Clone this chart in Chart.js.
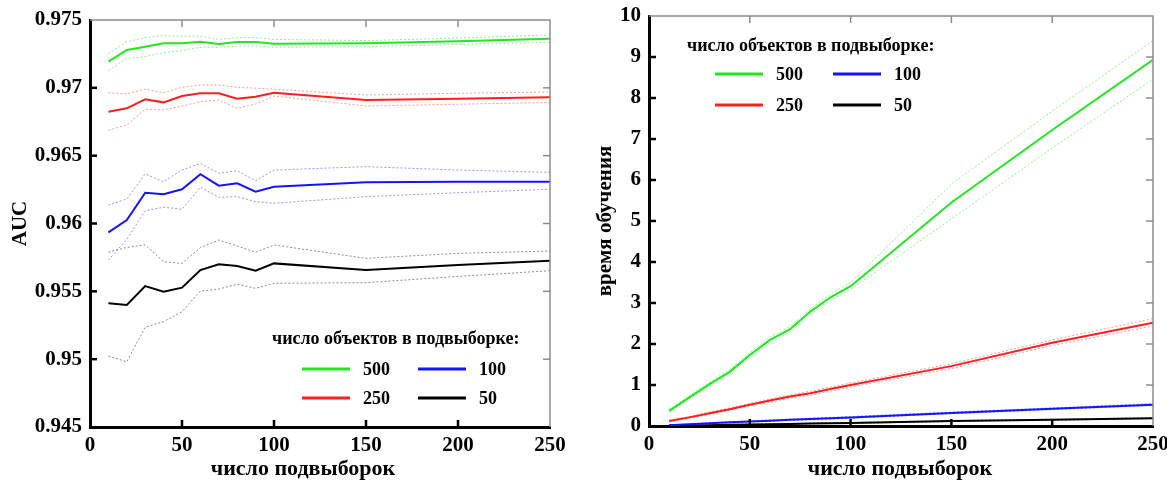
<!DOCTYPE html>
<html>
<head>
<meta charset="utf-8">
<script src="https://cdn.jsdelivr.net/npm/chart.js@4.4.0/dist/chart.umd.min.js"></script>
<style>
  body { margin: 0; background: #fff; }
  #wrap { position: relative; width: 1167px; height: 481px; }
  .box { position: absolute; top: 0; height: 481px; }
</style>
</head>
<body>
<div id="wrap">
  <div class="box" style="left:0;width:583px"><canvas id="aucChart" width="583" height="481"></canvas></div>
  <div class="box" style="left:583px;width:584px"><canvas id="timeChart" width="584" height="481"></canvas></div>
</div>
<script>
// число подвыборок
const subsets = [10, 20, 30, 40, 50, 60, 70, 80, 90, 100, 150, 200, 250];

// AUC: mean and dotted bounds per subset size
const auc500   = [0.97193, 0.97279, 0.97303, 0.97328, 0.97328, 0.97340, 0.97323, 0.97338, 0.97338, 0.97325, 0.97328, 0.97343, 0.97362];
const auc500Hi = [0.97254, 0.97340, 0.97370, 0.97384, 0.97380, 0.97380, 0.97357, 0.97370, 0.97370, 0.97357, 0.97348, 0.97367, 0.97390];
const auc500Lo = [0.97126, 0.97218, 0.97230, 0.97259, 0.97274, 0.97299, 0.97299, 0.97308, 0.97308, 0.97299, 0.97303, 0.97320, 0.97335];

const auc250   = [0.96824, 0.96849, 0.96915, 0.96893, 0.96940, 0.96960, 0.96960, 0.96920, 0.96935, 0.96964, 0.96910, 0.96920, 0.96930];
const auc250Hi = [0.96964, 0.96955, 0.96990, 0.96964, 0.97004, 0.97021, 0.97021, 0.97004, 0.96997, 0.96990, 0.96947, 0.96960, 0.96969];
const auc250Lo = [0.96689, 0.96726, 0.96842, 0.96837, 0.96866, 0.96898, 0.96910, 0.96849, 0.96881, 0.96940, 0.96866, 0.96879, 0.96893];

const auc100   = [0.95935, 0.96026, 0.96227, 0.96215, 0.96252, 0.96363, 0.96279, 0.96296, 0.96235, 0.96271, 0.96304, 0.96308, 0.96308];
const auc100Hi = [0.96136, 0.96180, 0.96365, 0.96308, 0.96394, 0.96443, 0.96370, 0.96389, 0.96315, 0.96394, 0.96419, 0.96394, 0.96377];
const auc100Lo = [0.95731, 0.95883, 0.96094, 0.96120, 0.96105, 0.96267, 0.96193, 0.96198, 0.96161, 0.96149, 0.96198, 0.96227, 0.96252];

const auc50    = [0.95412, 0.95399, 0.95539, 0.95497, 0.95527, 0.95657, 0.95699, 0.95687, 0.95652, 0.95706, 0.95657, 0.95694, 0.95726];
const auc50Hi  = [0.95788, 0.95824, 0.95842, 0.95719, 0.95706, 0.95822, 0.95878, 0.95834, 0.95788, 0.95842, 0.95743, 0.95780, 0.95797];
const auc50Lo  = [0.95023, 0.94981, 0.95235, 0.95277, 0.95350, 0.95502, 0.95517, 0.95552, 0.95522, 0.95559, 0.95564, 0.95610, 0.95652];

// время обучения
const time500   = [0.37, 0.70, 1.02, 1.32, 1.73, 2.10, 2.36, 2.79, 3.14, 3.41, 5.45, 7.22, 8.93];
const time500Hi = [0.40, 0.74, 1.07, 1.38, 1.79, 2.17, 2.43, 2.86, 3.21, 3.50, 5.90, 7.68, 9.40];
const time500Lo = [0.34, 0.66, 0.97, 1.27, 1.67, 2.03, 2.29, 2.72, 3.07, 3.33, 5.05, 6.78, 8.46];

const time250   = [0.12, 0.21, 0.31, 0.41, 0.52, 0.62, 0.72, 0.80, 0.90, 1.00, 1.46, 2.03, 2.52];
const time250Hi = [0.14, 0.23, 0.34, 0.44, 0.55, 0.66, 0.76, 0.85, 0.95, 1.05, 1.52, 2.10, 2.62];
const time250Lo = [0.10, 0.19, 0.28, 0.38, 0.49, 0.58, 0.68, 0.75, 0.85, 0.95, 1.40, 1.96, 2.44];

const time100   = [0.02, 0.04, 0.07, 0.09, 0.11, 0.13, 0.15, 0.17, 0.19, 0.21, 0.32, 0.42, 0.52];
const time100Hi = [0.03, 0.05, 0.08, 0.10, 0.12, 0.15, 0.17, 0.19, 0.21, 0.23, 0.34, 0.44, 0.55];
const time100Lo = [0.01, 0.03, 0.06, 0.08, 0.10, 0.12, 0.14, 0.15, 0.17, 0.19, 0.30, 0.40, 0.50];

const time50    = [0.01, 0.015, 0.02, 0.03, 0.035, 0.045, 0.05, 0.06, 0.07, 0.075, 0.12, 0.155, 0.19];
const time50Hi  = [0.02, 0.02, 0.03, 0.04, 0.045, 0.055, 0.06, 0.07, 0.08, 0.085, 0.13, 0.165, 0.20];
const time50Lo  = [0.005, 0.01, 0.015, 0.02, 0.03, 0.035, 0.04, 0.05, 0.06, 0.065, 0.11, 0.145, 0.18];

// tick labels
const xTicks = [0, 50, 100, 150, 200, 250];
const aucTicks = [0.945, 0.95, 0.955, 0.96, 0.965, 0.97, 0.975];
const timeTicks = [0, 1, 2, 3, 4, 5, 6, 7, 8, 9, 10];

const xTitle = 'число подвыборок';
const legendTitle = 'число объектов в подвыборке:';
const legendItems = [
  { label: '500', color: '#22e622' },
  { label: '100', color: '#1414ff' },
  { label: '250', color: '#ff1e1e' },
  { label: '50',  color: '#000000' }
];
const lightColors = {
  '500': 'rgba(34,230,34,0.5)',
  '100': 'rgba(20,20,255,0.45)',
  '250': 'rgba(255,30,30,0.45)',
  '50':  'rgba(0,0,0,0.45)'
};

const serif = '"Liberation Serif", "Times New Roman", serif';

function toPts(arr) {
  return arr.map((v, i) => ({ x: subsets[i], y: v }));
}

function seriesSets(label, main, hi, lo) {
  const color = legendItems.find(it => it.label === label).color;
  const light = lightColors[label];
  return [
    { label: label, data: toPts(main), borderColor: color, borderWidth: 2, pointRadius: 0, order: 0 },
    { label: label + ' hi', data: toPts(hi), borderColor: light, borderWidth: 1, borderDash: [2, 2], pointRadius: 0, order: 1 },
    { label: label + ' lo', data: toPts(lo), borderColor: light, borderWidth: 1, borderDash: [2, 2], pointRadius: 0, order: 1 }
  ];
}

function line(ctx, x1, y1, x2, y2) {
  ctx.beginPath();
  ctx.moveTo(x1, y1);
  ctx.lineTo(x2, y2);
  ctx.stroke();
}

// gray top/right frame and inward tick marks
const framePlugin = {
  id: 'frame',
  afterDraw(chart) {
    const { ctx, chartArea: a, scales } = chart;
    ctx.save();
    ctx.strokeStyle = '#8c8c8c';
    ctx.lineWidth = 1.5;
    ctx.beginPath();
    ctx.moveTo(a.left, a.top);
    ctx.lineTo(a.right, a.top);
    ctx.lineTo(a.right, a.bottom);
    ctx.stroke();
    scales.x.ticks.forEach(t => {
      const px = scales.x.getPixelForValue(t.value);
      if (px < a.left + 2 || px > a.right - 2) return;
      ctx.strokeStyle = '#000'; ctx.lineWidth = 2.5;
      line(ctx, px, a.bottom, px, a.bottom - 7);
      ctx.strokeStyle = '#8c8c8c'; ctx.lineWidth = 1.5;
      line(ctx, px, a.top, px, a.top + 7);
    });
    scales.y.ticks.forEach(t => {
      const py = scales.y.getPixelForValue(t.value);
      if (py < a.top + 2 || py > a.bottom - 2) return;
      ctx.strokeStyle = '#000'; ctx.lineWidth = 2.5;
      line(ctx, a.left, py, a.left + 7, py);
      ctx.strokeStyle = '#8c8c8c'; ctx.lineWidth = 1.5;
      line(ctx, a.right, py, a.right - 7, py);
    });
    ctx.restore();
  }
};

// legend box inside the plot + x axis title
const boxLegendPlugin = {
  id: 'boxLegend',
  afterDraw(chart, args, o) {
    const ctx = chart.ctx;
    ctx.save();
    ctx.fillStyle = '#000';
    ctx.textBaseline = 'middle';
    ctx.textAlign = 'left';
    ctx.font = 'bold 18px ' + serif;
    ctx.fillText(legendTitle, o.x, o.y);
    legendItems.forEach((it, i) => {
      const lx = o.x + o.lineX[i % 2];
      const ly = o.y + o.rowY[Math.floor(i / 2)];
      ctx.strokeStyle = it.color;
      ctx.lineWidth = 3;
      line(ctx, lx, ly, lx + 48, ly);
      ctx.fillText(it.label, lx + 61, ly + 1);
    });
    ctx.font = 'bold 22px ' + serif;
    ctx.textAlign = 'center';
    ctx.fillText(xTitle, o.titleX, 469);
    ctx.restore();
  }
};

function makeOptions(cfg) {
  return {
    responsive: false,
    animation: false,
    devicePixelRatio: 1,
    layout: { padding: { top: cfg.top, right: cfg.right, left: 0, bottom: 0 } },
    plugins: {
      legend: { display: false },
      tooltip: { enabled: false },
      boxLegend: cfg.legend
    },
    scales: {
      x: {
        type: 'linear',
        min: 0, max: 250,
        afterBuildTicks: s => { s.ticks = xTicks.map(v => ({ value: v })); },
        ticks: { color: '#000', font: { family: serif, size: 21, weight: 'bold' }, padding: 6, maxRotation: 0, callback: v => String(v) },
        grid: { display: false, drawTicks: false },
        border: { color: '#000', width: 3 },
        afterFit: s => { s.height = cfg.xHeight; s.paddingLeft = 0; s.paddingRight = 0; }
      },
      y: {
        min: cfg.yTicks[0], max: cfg.yTicks[cfg.yTicks.length - 1],
        afterBuildTicks: s => { s.ticks = cfg.yTicks.map(v => ({ value: v })); },
        ticks: { color: '#000', font: { family: serif, size: cfg.yFont, weight: 'bold' }, padding: 8, callback: v => String(v) },
        grid: { display: false, drawTicks: false },
        border: { color: '#000', width: 3 },
        title: { display: true, text: cfg.yTitle, color: '#000', font: { family: serif, size: 21, weight: 'bold' }, padding: { top: cfg.yTitlePad, bottom: 0 } },
        afterFit: s => { s.width = cfg.yWidth; s.paddingTop = 0; s.paddingBottom = 0; }
      }
    }
  };
}

new Chart(document.getElementById('aucChart'), {
  type: 'line',
  data: {
    datasets: [].concat(
      seriesSets('500', auc500, auc500Hi, auc500Lo),
      seriesSets('250', auc250, auc250Hi, auc250Lo),
      seriesSets('100', auc100, auc100Hi, auc100Lo),
      seriesSets('50', auc50, auc50Hi, auc50Lo)
    )
  },
  options: makeOptions({
    top: 20, right: 33, xHeight: 54, yWidth: 90, yFont: 21,
    yTicks: aucTicks, yTitle: 'AUC', yTitlePad: 8,
    legend: { x: 272, y: 339, lineX: [30, 146], rowY: [30, 59], titleX: 303 }
  }),
  plugins: [framePlugin, boxLegendPlugin]
});

new Chart(document.getElementById('timeChart'), {
  type: 'line',
  data: {
    datasets: [].concat(
      seriesSets('500', time500, time500Hi, time500Lo),
      seriesSets('250', time250, time250Hi, time250Lo),
      seriesSets('100', time100, time100Hi, time100Lo),
      seriesSets('50', time50, time50Hi, time50Lo)
    )
  },
  options: makeOptions({
    top: 16, right: 14, xHeight: 55, yWidth: 66, yFont: 21,
    yTicks: timeTicks, yTitle: 'время обучения', yTitlePad: 10,
    legend: { x: 104, y: 46, lineX: [28, 146], rowY: [28, 59], titleX: 317 }
  }),
  plugins: [framePlugin, boxLegendPlugin]
});
</script>
</body>
</html>
